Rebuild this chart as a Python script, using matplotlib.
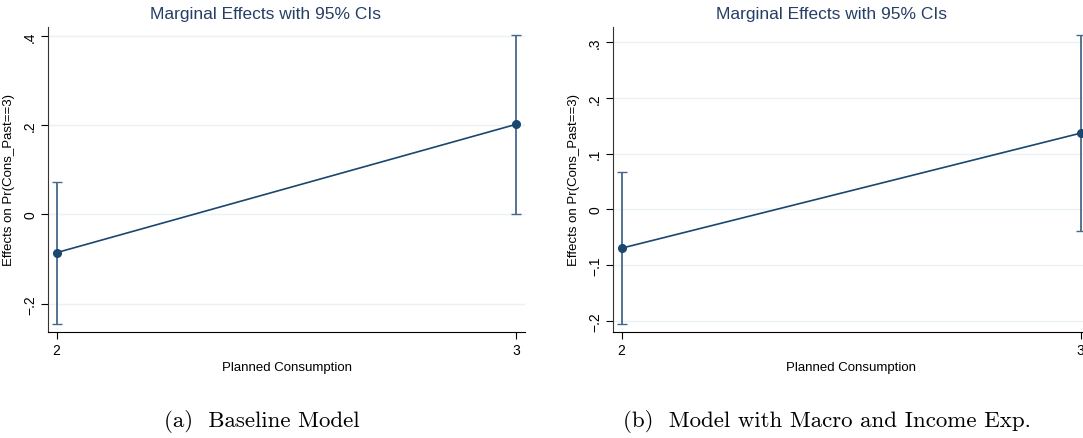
import numpy as np
import matplotlib
matplotlib.use("Agg")
import matplotlib.pyplot as plt

# data
plan_cons = [2, 3]

effect_base = [-0.0856, 0.2020]
ci_low_base = [-0.2446, 0.0010]
ci_high_base = [0.0728, 0.4027]

effect_macro = [-0.0695, 0.1370]
ci_low_macro = [-0.2050, -0.0395]
ci_high_macro = [0.0665, 0.3137]

yticks_base = [-0.2, 0, 0.2, 0.4]
ylabels_base = ["\u2212.2", "0", ".2", ".4"]
yticks_macro = [-0.2, -0.1, 0, 0.1, 0.2, 0.3]
ylabels_macro = ["\u2212.2", "\u2212.1", "0", ".1", ".2", ".3"]

captions = ["(a)  Baseline Model", "(b)  Model with Macro and Income Exp."]

navy = "#1a476f"
title_col = "#253f66"
ci_col = "#46698b"
grid_col = "#eaf2f3"

plt.rcParams["font.family"] = ["Liberation Sans", "DejaVu Sans"]

fig = plt.figure(figsize=(10.83, 4.39), dpi=100)


def panel(ax, eff, lo, hi, yt, yl, ylim):
    for v in yt:
        ax.axhline(v, color=grid_col, lw=1.0, zorder=0)
    eff = np.array(eff)
    err = [eff - np.array(lo), np.array(hi) - eff]
    ax.errorbar(plan_cons, eff, yerr=err, fmt="none", ecolor=ci_col,
                elinewidth=1.3, capsize=3.5, capthick=1.0, zorder=2)
    ax.plot(plan_cons, eff, color=navy, lw=1.2, marker="o", ms=5.5,
            mfc=navy, mec=navy, zorder=3)
    ax.set_xlim(1.982, 3.019)
    ax.set_ylim(*ylim)
    ax.set_xticks(plan_cons)
    ax.set_xticklabels([str(v) for v in plan_cons])
    ax.set_yticks(yt)
    ax.set_yticklabels(yl, rotation=90, va="center")
    ax.tick_params(axis="both", direction="out", length=5, width=0.8,
                   labelsize=10, colors="#000000", pad=3)
    for s in ["top", "right"]:
        ax.spines[s].set_visible(False)
    ax.spines["left"].set_color("#333333")
    ax.spines["bottom"].set_color("#000000")
    ax.set_xlabel("Planned Consumption", fontsize=9.5)
    ax.xaxis.set_label_coords(0.5, -0.095)
    ax.set_ylabel("Effects on Pr(Cons_Past==3)", fontsize=9.5)
    ax.yaxis.set_label_coords(-0.07, 0.5)


ax1 = fig.add_axes([0.0446, 0.2408, 0.4402, 0.6961])
panel(ax1, effect_base, ci_low_base, ci_high_base,
      yticks_base, ylabels_base, (-0.264, 0.4206))

ax2 = fig.add_axes([0.5663, 0.2408, 0.4396, 0.6961])
panel(ax2, effect_macro, ci_low_macro, ci_high_macro,
      yticks_macro, ylabels_macro, (-0.2204, 0.328))

fig.text(265.8 / 1083, 1 - 14.5 / 439, "Marginal Effects with 95% CIs",
         ha="center", va="center", fontsize=12.5, color=title_col)
fig.text(831 / 1083, 1 - 14.5 / 439, "Marginal Effects with 95% CIs",
         ha="center", va="center", fontsize=12.5, color=title_col)

fig.text(261.5 / 1083, 1 - 421.7 / 439, captions[0], ha="center",
         va="center", fontsize=16.5, family="cmr10")
fig.text(826.7 / 1083, 1 - 421.7 / 439, captions[1], ha="center",
         va="center", fontsize=16.5, family="cmr10")

fig.savefig("out.png", dpi=100)
